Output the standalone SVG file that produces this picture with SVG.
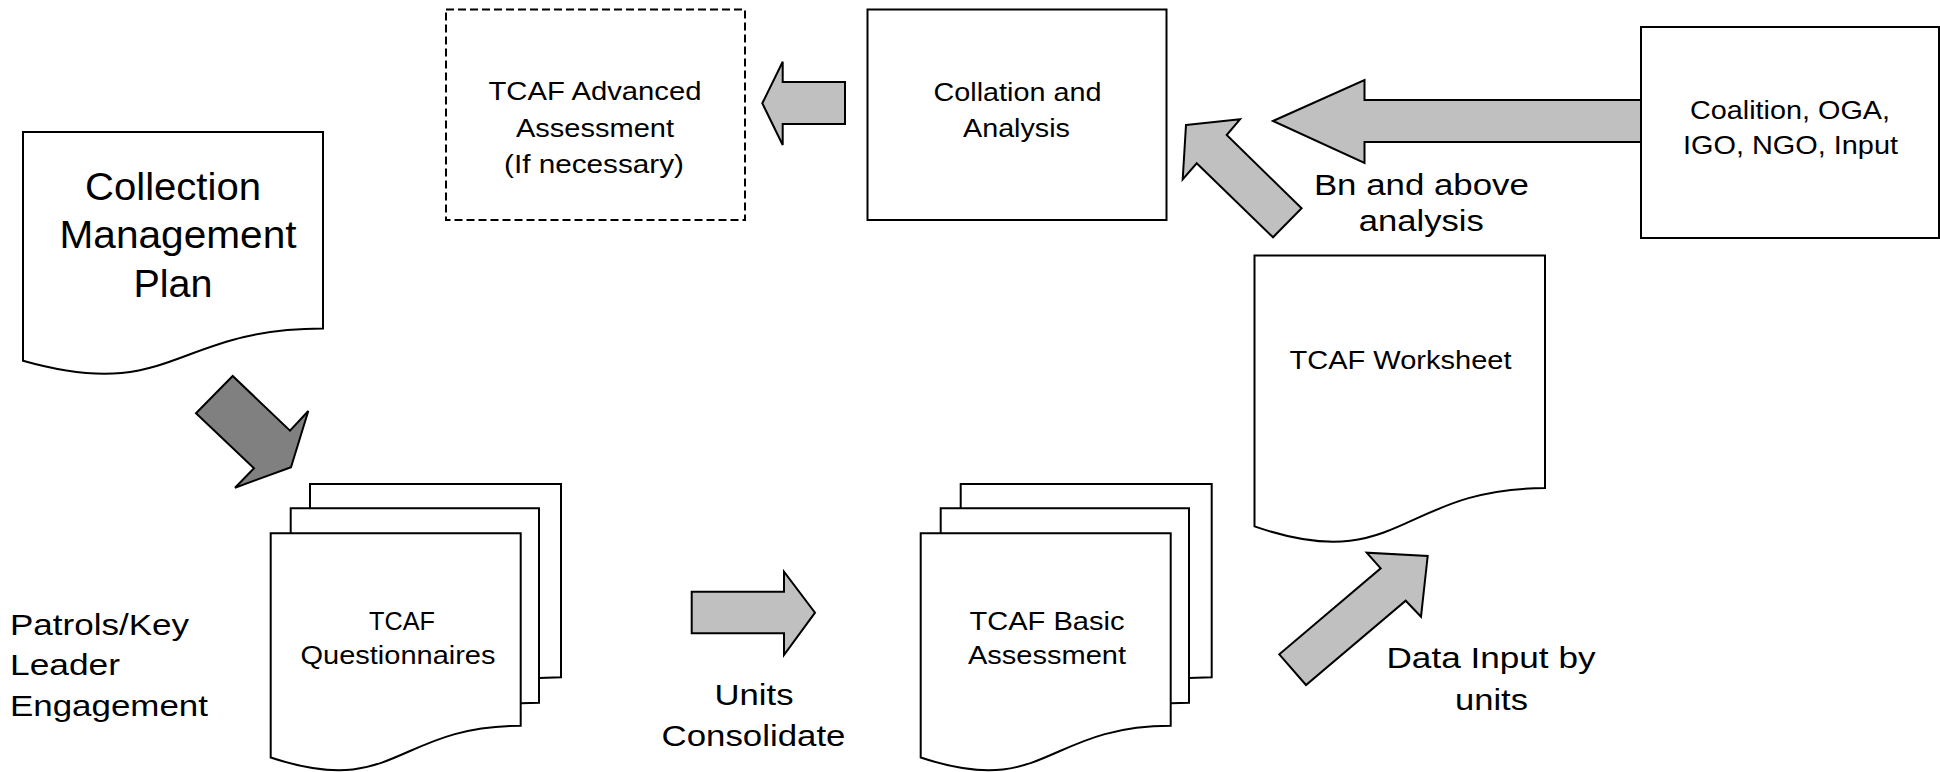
<svg xmlns="http://www.w3.org/2000/svg" width="1940" height="772" viewBox="0 0 1940 772">
  <style>
    .box { fill: #ffffff; stroke: #000000; stroke-width: 2; }
    .dash { fill: #ffffff; stroke: #000000; stroke-width: 2; stroke-dasharray: 8 4; }
    .sheet { fill: #ffffff; stroke: #000000; stroke-width: 2; stroke-linejoin: miter; }
    .arrow { fill: #c0c0c0; stroke: #000000; stroke-width: 2; stroke-linejoin: miter; }
    .arrow-dark { fill: #808080; stroke: #000000; stroke-width: 2; stroke-linejoin: miter; }
    text { font-family: "Liberation Sans", Arial, sans-serif; fill: #000000; }
    .t26 { font-size: 26.5px; text-anchor: middle; }
    .t30 { font-size: 30px; text-anchor: middle; }
    .t30l { font-size: 30px; text-anchor: start; }
    .t37 { font-size: 38px; text-anchor: middle; }
  </style>

  <rect width="1940" height="772" fill="#ffffff"/>

  <!-- connectors: block arrows -->
  <g id="connectors">
    <!-- Collation and Analysis -> TCAF Advanced Assessment -->
    <polygon class="arrow" points="762.3,103.3 782.7,61.7 782.7,82 845,82 845,124 782.7,124 782.7,145"/>
    <!-- Coalition input -> Collation and Analysis -->
    <polygon class="arrow" points="1273,121 1364.5,80 1364.5,100 1641,100 1641,142 1364.5,142 1364.5,163"/>
    <!-- Worksheet -> Collation and Analysis (Bn and above analysis) -->
    <polygon class="arrow" points="1186,125 1240,119.3 1226.7,135 1301.6,208.3 1273,237.3 1196.7,163.3 1182.7,179.3"/>
    <!-- Collection Management Plan -> Questionnaires -->
    <polygon class="arrow-dark" points="291,467.3 235,487.7 254,468.3 196,413.3 232.7,376 290,430.7 308.3,411"/>
    <!-- Questionnaires -> Basic Assessment (Units Consolidate) -->
    <polygon class="arrow" points="691.7,591.7 784,591.7 784,571.7 815,612.7 784,655 784,633.3 691.7,633.3"/>
    <!-- Basic Assessment -> Worksheet (Data Input by units) -->
    <polygon class="arrow" points="1427.7,556 1421,616.7 1405.7,600.7 1306,685 1279.3,654.3 1380.7,568.3 1366.7,552.7"/>
  </g>

  <g id="advanced-assessment">
    <rect class="dash" x="446" y="9.5" width="299" height="210.5"/>
    <text class="t26" x="595" y="100" textLength="213" lengthAdjust="spacingAndGlyphs">TCAF Advanced</text>
    <text class="t26" x="595" y="137" textLength="158" lengthAdjust="spacingAndGlyphs">Assessment</text>
    <text class="t26" x="594" y="173" textLength="180" lengthAdjust="spacingAndGlyphs">(If necessary)</text>
  </g>

  <g id="collation-analysis">
    <rect class="box" x="867.5" y="9.5" width="299" height="210.5"/>
    <text class="t26" x="1017.5" y="101" textLength="168" lengthAdjust="spacingAndGlyphs">Collation and</text>
    <text class="t26" x="1016.5" y="137" textLength="107" lengthAdjust="spacingAndGlyphs">Analysis</text>
  </g>

  <g id="coalition-input">
    <rect class="box" x="1641" y="27" width="298" height="211"/>
    <text class="t26" x="1790" y="118.5" textLength="200" lengthAdjust="spacingAndGlyphs">Coalition, OGA,</text>
    <text class="t26" x="1790.5" y="153.5" textLength="215" lengthAdjust="spacingAndGlyphs">IGO, NGO, Input</text>
  </g>

  <g id="collection-plan">
    <path class="sheet" d="M23,132 H323 V328.5 C173,328.5 173,403.3 23,360.8 Z"/>
    <text class="t37" x="173" y="200" textLength="176" lengthAdjust="spacingAndGlyphs">Collection</text>
    <text class="t37" x="178" y="248" textLength="237" lengthAdjust="spacingAndGlyphs">Management</text>
    <text class="t37" x="173" y="297" textLength="79" lengthAdjust="spacingAndGlyphs">Plan</text>
  </g>

  <g id="worksheet">
    <path class="sheet" d="M1254.5,255.5 H1545 V488.1 C1399.75,488.1 1399.75,576.7 1254.5,526.4 Z"/>
    <text class="t26" x="1400.5" y="368.5" textLength="222" lengthAdjust="spacingAndGlyphs">TCAF Worksheet</text>
  </g>

  <g id="questionnaires">
    <path class="sheet" d="M310,508.3 V484 H561 V677.3 L539,678"/>
    <path class="sheet" d="M290.7,533.3 V508.3 H539 V702.7 L520.7,703.3"/>
    <path class="sheet" d="M270.7,533.3 H520.7 V725.8 C395.7,725.8 395.7,799.1 270.7,757.5 Z"/>
    <text class="t26" x="402" y="629.5" textLength="66" lengthAdjust="spacingAndGlyphs">TCAF</text>
    <text class="t26" x="398" y="663.5" textLength="195" lengthAdjust="spacingAndGlyphs">Questionnaires</text>
  </g>

  <g id="basic-assessment">
    <path class="sheet" d="M960.7,508.3 V484 H1211.7 V677.3 L1189,678"/>
    <path class="sheet" d="M940.7,533.3 V508.3 H1189 V702.7 L1170.7,703.3"/>
    <path class="sheet" d="M920.7,533.3 H1170.7 V725.8 C1045.7,725.8 1045.7,799.1 920.7,757.5 Z"/>
    <text class="t26" x="1047" y="630" textLength="155" lengthAdjust="spacingAndGlyphs">TCAF Basic</text>
    <text class="t26" x="1047" y="663.5" textLength="158" lengthAdjust="spacingAndGlyphs">Assessment</text>
  </g>

  <g id="label-patrols">
    <text class="t30l" x="10" y="635" textLength="179" lengthAdjust="spacingAndGlyphs">Patrols/Key</text>
    <text class="t30l" x="10" y="675" textLength="110" lengthAdjust="spacingAndGlyphs">Leader</text>
    <text class="t30l" x="10" y="716" textLength="198" lengthAdjust="spacingAndGlyphs">Engagement</text>
  </g>

  <g id="label-units-consolidate">
    <text class="t30" x="754" y="705" textLength="79" lengthAdjust="spacingAndGlyphs">Units</text>
    <text class="t30" x="753.5" y="746" textLength="184" lengthAdjust="spacingAndGlyphs">Consolidate</text>
  </g>

  <g id="label-bn-analysis">
    <text class="t30" x="1421.4" y="195" textLength="215" lengthAdjust="spacingAndGlyphs">Bn and above</text>
    <text class="t30" x="1421.3" y="231" textLength="125" lengthAdjust="spacingAndGlyphs">analysis</text>
  </g>

  <g id="label-data-input">
    <text class="t30" x="1491" y="668.3" textLength="209" lengthAdjust="spacingAndGlyphs">Data Input by</text>
    <text class="t30" x="1491.5" y="710" textLength="73" lengthAdjust="spacingAndGlyphs">units</text>
  </g>
</svg>
